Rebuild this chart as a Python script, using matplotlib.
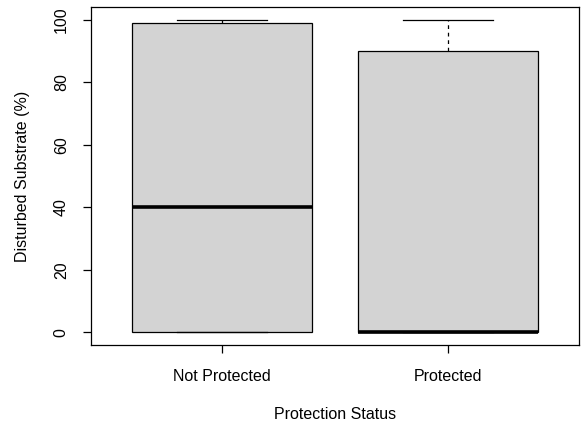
import matplotlib
matplotlib.use("Agg")
import matplotlib.pyplot as plt

plt.rcParams['font.family'] = ['Liberation Sans', 'DejaVu Sans']

groups = ["Not Protected", "Protected"]
mins = [0, 0]
q1s = [0, 0]
medians = [40, 0]
q3s = [99, 90]
maxs = [100, 100]

stats = []
for g, lo, a, m, b, hi in zip(groups, mins, q1s, medians, q3s, maxs):
    stats.append(dict(label=g, whislo=lo, q1=a, med=m, q3=b, whishi=hi, fliers=[]))

fig = plt.figure(figsize=(5.81, 4.26), dpi=100)
ax = fig.add_axes([91 / 581, 1 - 345 / 426, 488 / 581, 338 / 426])

ax.bxp(stats, positions=[1, 2], widths=0.8, patch_artist=True,
       boxprops=dict(facecolor="#d3d3d3", edgecolor="black", linewidth=0.9),
       medianprops=dict(color="black", linewidth=2.6, solid_capstyle="butt"),
       whiskerprops=dict(color="black", linewidth=0.9, linestyle=(0, (3, 3))),
       capprops=dict(color="black", linewidth=0.9),
       capwidths=0.4)

ax.set_xlim(0.42, 2.58)
ax.set_ylim(-4, 104)
ax.set_yticks([0, 20, 40, 60, 80, 100])
ax.set_xticks([1, 2])
ax.set_xticklabels(groups)
for lbl in ax.get_yticklabels():
    lbl.set_rotation(90)
    lbl.set_va("center")
ax.tick_params(axis="both", length=6, width=0.9, labelsize=11.5, direction="out")
ax.tick_params(axis="x", pad=11)
ax.tick_params(axis="y", pad=10)
for s in ax.spines.values():
    s.set_linewidth(0.9)

ax.set_xlabel("Protection Status", fontsize=11.5, labelpad=17)
ax.set_ylabel("Disturbed Substrate (%)", fontsize=11.5, labelpad=17)

fig.savefig("out.png", dpi=100)
